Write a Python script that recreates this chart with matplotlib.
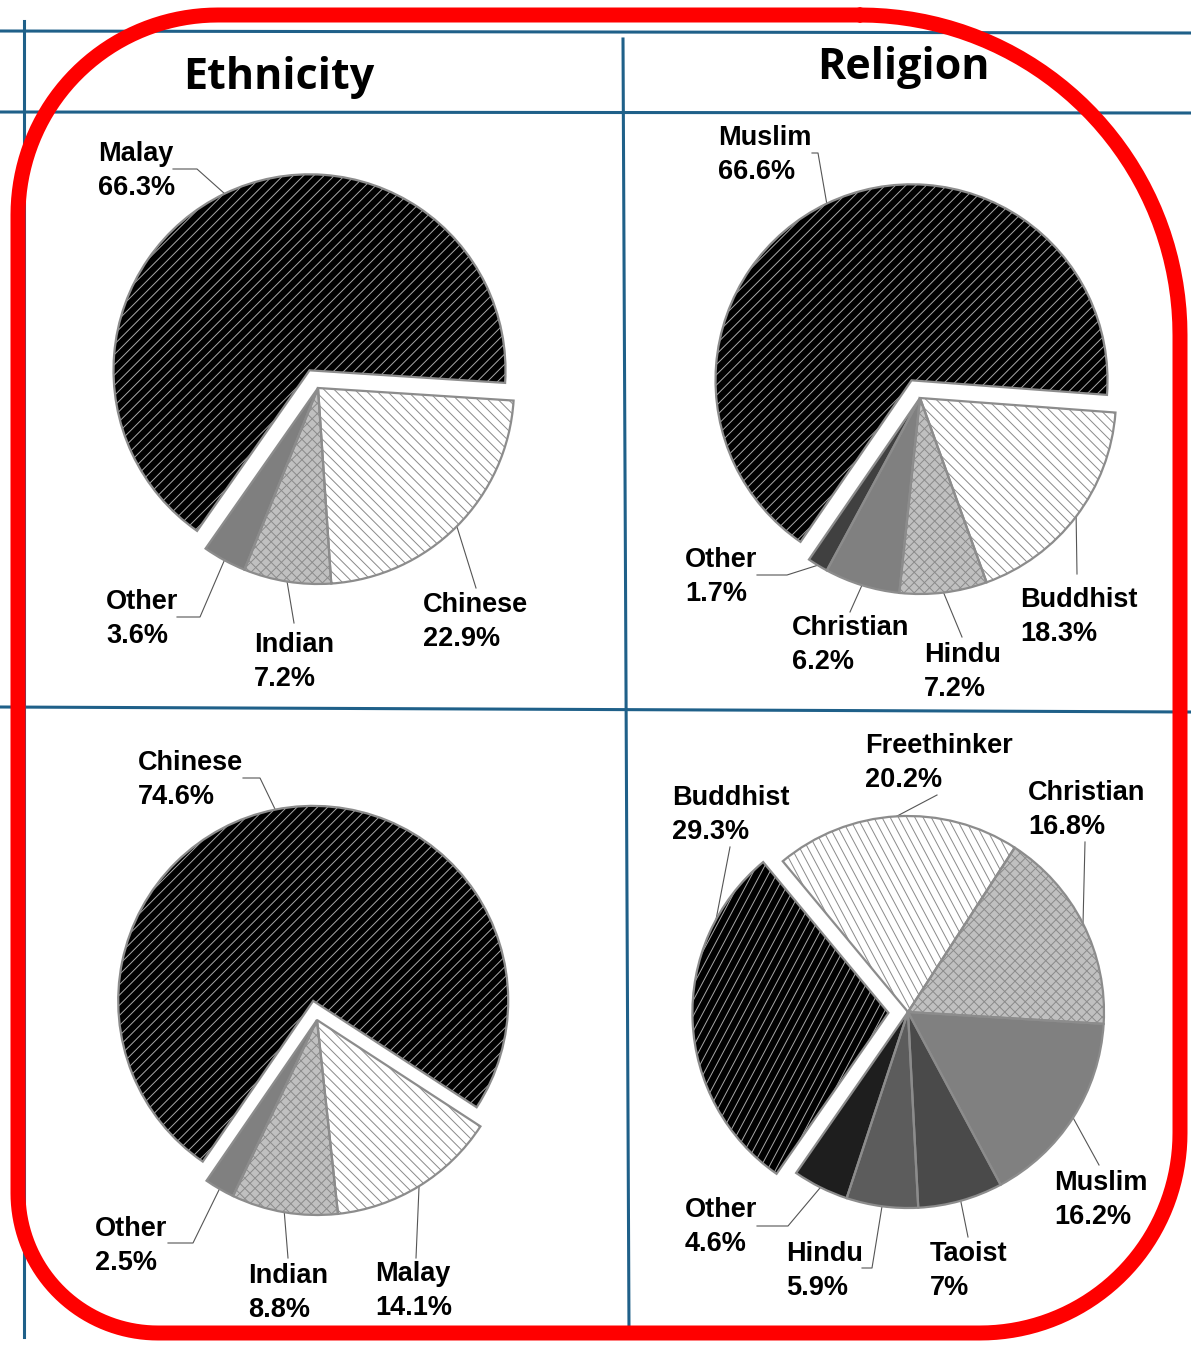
import numpy as np
import matplotlib
matplotlib.use('Agg')
import matplotlib.pyplot as plt
from matplotlib.collections import LineCollection

W, H = 1191, 1347

# ---- data ----
eth_my = ['Malay', 'Chinese', 'Indian', 'Other']
eth_my_pct = [66.3, 22.9, 7.2, 3.6]

rel_my = ['Muslim', 'Buddhist', 'Hindu', 'Christian', 'Other']
rel_my_pct = [66.6, 18.3, 7.2, 6.2, 1.7]

eth_sg = ['Chinese', 'Malay', 'Indian', 'Other']
eth_sg_pct = [74.6, 14.1, 8.8, 2.5]

rel_sg = ['Buddhist', 'Freethinker', 'Christian', 'Muslim', 'Taoist', 'Hindu', 'Other']
rel_sg_pct = [29.3, 20.2, 16.8, 16.2, 7, 5.9, 4.6]

col_titles = ['Ethnicity', 'Religion']

# ---- styling / layout (pixels, y down) ----
charts = [
    dict(names=eth_my, pct=eth_my_pct, center=(318, 388), r=196, start=235,
         colors=['black', 'white', '#c0c0c0', '#7f7f7f'],
         hatch=[[45], [135], [45, 135], []],
         text=[(98, 138), (423, 589), (254, 629), (106, 586)],
         lead=[[(197, 169), (173, 169)], [(476, 588)], [(294, 623)], [(200, 617), (177, 617)]],
         anchor=[None] * 4),
    dict(names=rel_my, pct=rel_my_pct, center=(920, 398), r=196, start=235.5,
         colors=['black', 'white', '#c0c0c0', '#808080', '#404040'],
         hatch=[[45], [135], [45, 135], [], []],
         text=[(718, 122), (1020, 584), (924, 639), (792, 612), (685, 544)],
         lead=[[(818, 153), (812, 153)], [(1077, 574)], [(962, 637)], [(850, 612)],
               [(787, 575), (757, 575)]],
         anchor=[None] * 5),
    dict(names=eth_sg, pct=eth_sg_pct, center=(317, 1020), r=195, start=235.5,
         colors=['black', 'white', '#c0c0c0', '#808080'],
         hatch=[[45], [135], [45, 135], []],
         text=[(138, 747), (375, 1258), (248, 1260), (95, 1213)],
         lead=[[(260, 778), (243, 778)], [(416, 1258)], [(288, 1258)], [(193, 1243), (168, 1243)]],
         anchor=[None] * 4),
    dict(names=rel_sg, pct=rel_sg_pct, center=(908, 1012), r=196, start=235.2,
         colors=['black', 'white', '#c0c0c0', '#808080', '#4a4a4a', '#5c5c5c', '#1e1e1e'],
         hatch=[[62], [118], [45, 135], [], [], [], []],
         text=[(672, 782), (865, 730), (1028, 777), (1054, 1167), (930, 1238), (786, 1238), (685, 1194)],
         lead=[[(730, 847)], [(937, 795)], [(1085, 842)], [(1099, 1165)], [(968, 1237)],
               [(872, 1268), (862, 1268)], [(788, 1226), (757, 1226)]],
         anchor=[151.6] + [None] * 6),
]

blue = '#1f6089'
label_font = ['Liberation Sans', 'DejaVu Sans']
title_font = ['Open Sans', 'DejaVu Sans']

fig = plt.figure(figsize=(W / 100, H / 100), dpi=100)
bg = fig.add_axes([0, 0, 1, 1])
bg.set_xlim(0, W)
bg.set_ylim(H, 0)
bg.axis('off')

# table lines
bg.plot([0, W], [31, 33], color=blue, lw=2.2)
bg.plot([0, W], [112, 113], color=blue, lw=2.2)
bg.plot([0, W], [707, 712], color=blue, lw=2.2)
bg.plot([24, 24], [21, 1337], color=blue, lw=2.2)
bg.plot([623, 629], [39, 1331], color=blue, lw=2.2)

# column headings
bg.text(279, 89, col_titles[0], ha='center', va='baseline', fontsize=31,
        fontweight='bold', family=title_font)
bg.text(903, 79, col_titles[1], ha='center', va='baseline', fontsize=31,
        fontweight='bold', family=title_font)


def hatch(ax, wedge, angles, step, color):
    cx, cy = wedge.center
    r = wedge.r
    segs = []
    for a in angles:
        t = np.deg2rad(a)
        d = np.array([np.cos(t), np.sin(t)])
        n = np.array([-d[1], d[0]])
        for k in np.arange(-1.2 * r, 1.2 * r, step):
            p = np.array([cx, cy]) + n * k
            segs.append([p - d * r * 1.3, p + d * r * 1.3])
    lc = LineCollection(segs, colors=color, linewidths=0.7, zorder=2)
    ax.add_collection(lc)
    lc.set_clip_path(wedge)


for c in charts:
    cx, cy = c['center']
    R = c['r']
    S = 2 * 1.3 * R
    ax = fig.add_axes([(cx - S / 2) / W, 1 - (cy + S / 2) / H, S / W, S / H])
    explode = [0.1] + [0] * (len(c['pct']) - 1)
    wedges, _ = ax.pie(c['pct'], startangle=c['start'], counterclock=False,
                       explode=explode, colors=c['colors'],
                       wedgeprops=dict(linewidth=0))
    ax.pie(c['pct'], startangle=c['start'], counterclock=False, explode=explode,
           wedgeprops=dict(fill=False, edgecolor='#8c8c8c', linewidth=1.6, zorder=3))
    ax.set_xlim(-1.3, 1.3)
    ax.set_ylim(-1.3, 1.3)
    ax.axis('off')
    for w, hs, fc in zip(wedges, c['hatch'], c['colors']):
        if hs:
            hatch(ax, w, hs, 0.037, '#a8a8a8' if fc == 'black' else '#8a8a8a')

    for w, name, v, tp, lp, an in zip(wedges, c['names'], c['pct'], c['text'],
                                       c['lead'], c['anchor']):
        a = np.deg2rad((w.theta1 + w.theta2) / 2 if an is None else an)
        p = (w.center[0] + w.r * np.cos(a), w.center[1] + w.r * np.sin(a))
        p0 = bg.transData.inverted().transform(ax.transData.transform(p))
        pts = [tuple(p0)] + lp
        bg.plot([q[0] for q in pts], [q[1] for q in pts], color='#555555', lw=0.8)
        bg.text(tp[0], tp[1] + 3, f'{name}\n{v:g}%', ha='left', va='top', fontsize=19.5,
                fontweight='bold', family=label_font, linespacing=1.42)

# red rounded frame
L, Rt, T, B = 18, 1180, 15, 1333
rad = dict(tl=200, tr=320, br=200, bl=140)


def arc(cx, cy, r, a0, a1):
    ph = np.deg2rad(np.linspace(a0, a1, 40))
    return cx + r * np.cos(ph), cy - r * np.sin(ph)


xs, ys = [], []
for (ccx, ccy, r, a0, a1) in [
        (Rt - rad['tr'], T + rad['tr'], rad['tr'], 90, 0),
        (Rt - rad['br'], B - rad['br'], rad['br'], 0, -90),
        (L + rad['bl'], B - rad['bl'], rad['bl'], -90, -180),
        (L + rad['tl'], T + rad['tl'], rad['tl'], 180, 90)]:
    ax_, ay_ = arc(ccx, ccy, r, a0, a1)
    xs.extend(ax_)
    ys.extend(ay_)
xs.append(xs[0])
ys.append(ys[0])
bg.plot(xs, ys, color='#ff0000', lw=10.8, solid_joinstyle='round',
        solid_capstyle='round', zorder=5)

fig.savefig('out.png', dpi=100)
